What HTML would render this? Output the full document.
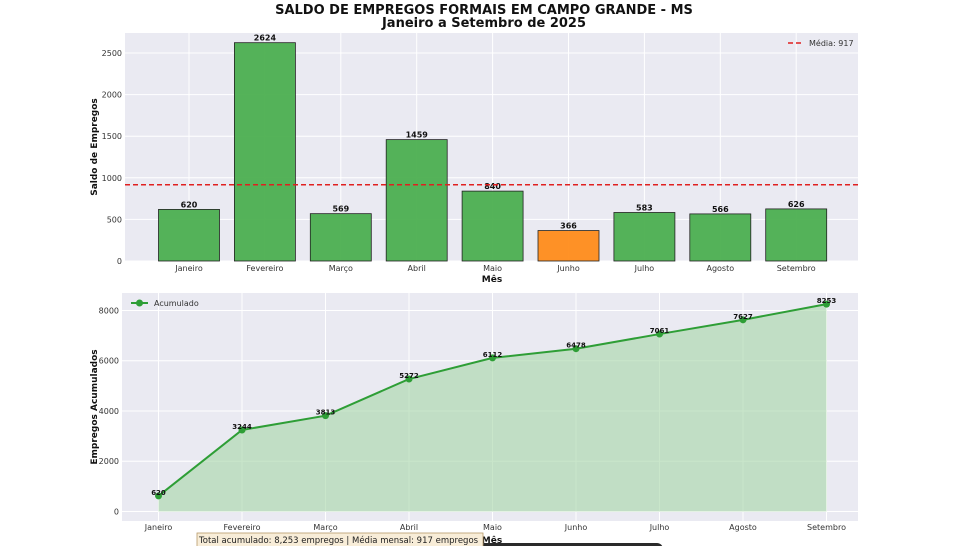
<!DOCTYPE html>
<html><head><meta charset="utf-8"><style>
body{margin:0;background:#fff;font-family:"Liberation Sans","DejaVu Sans",sans-serif;}
svg text{font-family:"DejaVu Sans","Liberation Sans",sans-serif;}
</style></head><body>
<svg id="c" width="956" height="546" xmlns="http://www.w3.org/2000/svg">
<text x="484" y="14" text-anchor="middle" font-size="13" font-weight="bold" fill="#111">SALDO DE EMPREGOS FORMAIS EM CAMPO GRANDE - MS</text>
<text x="484" y="27" text-anchor="middle" font-size="13" font-weight="bold" fill="#111">Janeiro a Setembro de 2025</text>
<g id="top"></g><g id="bot"></g>
</svg>
<script>
const months=["Janeiro","Fevereiro","Março","Abril","Maio","Junho","Julho","Agosto","Setembro"];
const saldo=[620,2624,569,1459,840,366,583,566,626];
const acumulado=[620,3244,3813,5272,6112,6478,7061,7627,8253];
const media=917;
const topTicks=[0,500,1000,1500,2000,2500];
const botTicks=[0,2000,4000,6000,8000];
const NS="http://www.w3.org/2000/svg";
function el(p,t,a,txt){const e=document.createElementNS(NS,t);for(const k in a)e.setAttribute(k,a[k]);if(txt!=null)e.textContent=txt;p.appendChild(e);return e;}
// top chart
const T=document.getElementById('top');
const tL=125,tR=858,tT=33,tB=261;
const ty=v=>261-v*0.0832, tx=i=>189+i*75.9;
let bg=el(T,'rect',{x:tL,y:tT,width:tR-tL,height:tB-tT,fill:'#eaeaf2'});

topTicks.forEach(v=>{el(T,'line',{x1:tL,x2:tR,y1:ty(v),y2:ty(v),stroke:'#fff','stroke-width':1});
 const t=el(T,'text',{x:tL-3,y:ty(v)+3,'text-anchor':'end','font-size':8,fill:'#333'},v);});
months.forEach((m,i)=>{el(T,'line',{x1:tx(i),x2:tx(i),y1:tT,y2:tB,stroke:'#fff','stroke-width':1});
 const t=el(T,'text',{x:tx(i),y:tB+10,'text-anchor':'middle','font-size':8,fill:'#333'},m);});
saldo.forEach((v,i)=>{const b=el(T,'rect',{x:tx(i)-30.5,y:ty(v),width:61,height:ty(0)-ty(v),fill:v===Math.min(...saldo)?'#ff8c1a':'#4caf50','fill-opacity':0.95,stroke:'#222','stroke-width':0.8});
 
 const t=el(T,'text',{x:tx(i),y:ty(v)-2,'text-anchor':'middle','font-size':8,'font-weight':'bold',fill:'#111'},v);});
let ml=el(T,'line',{x1:tL,x2:tR,y1:ty(media),y2:ty(media),stroke:'#e02020','stroke-width':1.5,'stroke-dasharray':'5,3'});

let lg=el(T,'g',{});
el(lg,'line',{x1:788,x2:803,y1:43,y2:43,stroke:'#e02020','stroke-width':1.5,'stroke-dasharray':'5,3'});
el(lg,'text',{x:809,y:46,'font-size':8,fill:'#333'},'Média: '+media);
let yt=el(T,'text',{transform:'translate(97,147) rotate(-90)','text-anchor':'middle','font-size':9,'font-weight':'bold',fill:'#111'},'Saldo de Empregos');
let xt=el(T,'text',{x:492,y:282,'text-anchor':'middle','font-size':9,'font-weight':'bold',fill:'#111'},'Mês');
// bottom chart
const B=document.getElementById('bot');
const bL=122,bR=858,bT=293,bB=521;
const by=v=>511.5-v*0.02513, bx=i=>158.5+i*83.5;
bg=el(B,'rect',{x:bL,y:bT,width:bR-bL,height:bB-bT,fill:'#eaeaf2'});

botTicks.forEach(v=>{el(B,'line',{x1:bL,x2:bR,y1:by(v),y2:by(v),stroke:'#fff','stroke-width':1});
 const t=el(B,'text',{x:bL-3,y:by(v)+3,'text-anchor':'end','font-size':8,fill:'#333'},v);});
months.forEach((m,i)=>{el(B,'line',{x1:bx(i),x2:bx(i),y1:bT,y2:bB,stroke:'#fff','stroke-width':1});
 const t=el(B,'text',{x:bx(i),y:bB+9,'text-anchor':'middle','font-size':8,fill:'#333'},m);});
let pts=acumulado.map((v,i)=>bx(i)+','+by(v)).join(' ');
let ar=el(B,'polygon',{points:bx(0)+','+by(0)+' '+pts+' '+bx(8)+','+by(0),fill:'#a5d6a7','fill-opacity':0.6});

let ln=el(B,'polyline',{points:pts,fill:'none',stroke:'#2e9e36','stroke-width':2});

acumulado.forEach((v,i)=>{const c=el(B,'circle',{cx:bx(i),cy:by(v),r:3.5,fill:'#2e9e36'});
 const t=el(B,'text',{x:bx(i),y:by(v)-1,'text-anchor':'middle','font-size':7,'font-weight':'bold',fill:'#111'},v);});
lg=el(B,'g',{});
el(lg,'line',{x1:131,x2:148,y1:303,y2:303,stroke:'#2e9e36','stroke-width':2});
el(lg,'circle',{cx:139.5,cy:303,r:3.5,fill:'#2e9e36'});
el(lg,'text',{x:154,y:306,'font-size':8,fill:'#333'},'Acumulado');
yt=el(B,'text',{transform:'translate(97,407) rotate(-90)','text-anchor':'middle','font-size':9,'font-weight':'bold',fill:'#111'},'Empregos Acumulados');
xt=el(B,'text',{x:492,y:543,'text-anchor':'middle','font-size':9,'font-weight':'bold',fill:'#111'},'Mês');
let dk=el(B,'rect',{x:283,y:543,width:380,height:12,rx:6,fill:'#2a2a2a'});
let bx2=el(B,'rect',{x:197,y:533,width:286,height:14,fill:'#f8edd8',stroke:'#b89a6a','stroke-width':0.8});
let st=el(B,'text',{x:199,y:543,'font-size':8.5,fill:'#222'},'Total acumulado: 8,253 empregos | Média mensal: 917 empregos');
</script>
</body></html>
